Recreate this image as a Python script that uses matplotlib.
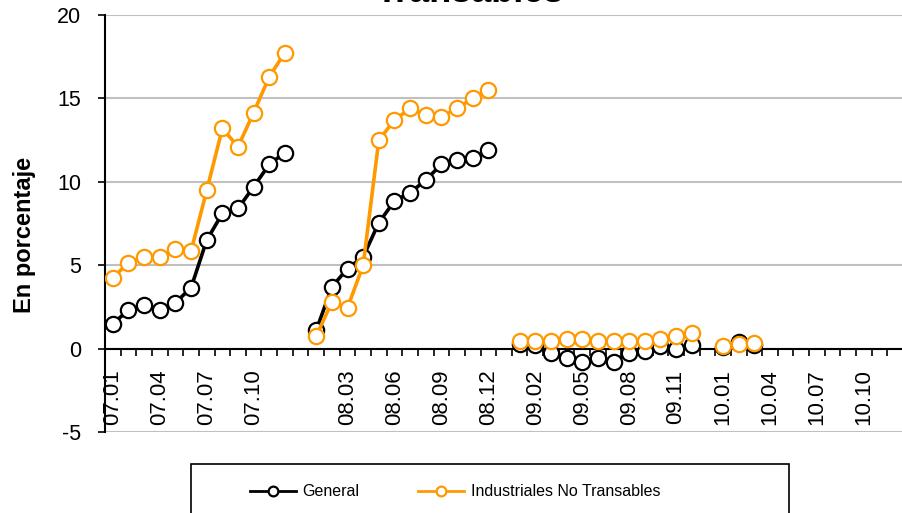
import matplotlib
matplotlib.use('Agg')
import matplotlib.pyplot as plt
import numpy as np
from matplotlib.patches import Rectangle

plt.rcParams['font.family'] = ['Liberation Sans', 'DejaVu Sans']
plt.rcParams['axes.unicode_minus'] = False

# ---- categories (a blank slot separates each year) ----
years = ['07', '08', '09', '10']
months = ['01', '02', '03', '04', '05', '06', '07', '08', '09', '10', '11', '12']
categories = []
for i, y in enumerate(years):
    if i > 0:
        categories.append('')
    categories += [f'{y}.{m}' for m in months]

nan = np.nan
# ---- General ----
general_07 = [1.5, 2.3, 2.6, 2.3, 2.75, 3.65, 6.5, 8.1, 8.4, 9.7, 11.05, 11.75]
general_08 = [1.1, 3.7, 4.8, 5.5, 7.55, 8.85, 9.35, 10.1, 11.05, 11.3, 11.4, 11.9]
general_09 = [0.3, 0.2, -0.25, -0.55, -0.8, -0.55, -0.8, -0.25, -0.15, 0.15, 0.0, 0.2]
general_10 = [0.1, 0.4, 0.2, nan, nan, nan, nan, nan, nan, nan, nan, nan]
# ---- Industriales No Transables ----
nt_07 = [4.25, 5.15, 5.5, 5.5, 6.0, 5.85, 9.48, 13.2, 12.1, 14.15, 16.3, 17.75]
nt_08 = [0.75, 2.8, 2.45, 5.0, 12.5, 13.7, 14.4, 14.0, 13.9, 14.4, 15.0, 15.5]
nt_09 = [0.45, 0.45, 0.45, 0.6, 0.6, 0.45, 0.45, 0.45, 0.45, 0.6, 0.75, 0.95]
nt_10 = [0.15, 0.25, 0.35, nan, nan, nan, nan, nan, nan, nan, nan, nan]

def join(parts):
    out = []
    for i, p in enumerate(parts):
        if i > 0:
            out.append(nan)
        out += p
    return np.array(out, dtype=float)

general = join([general_07, general_08, general_09, general_10])
nt = join([nt_07, nt_08, nt_09, nt_10])

ORANGE = '#FF9900'

fig = plt.figure(figsize=(9.02, 5.13), dpi=100)
ax = fig.add_axes([105/902, 81/513, 798/902, 417/513])

x = np.arange(len(categories))
ax.plot(x, general, color='black', lw=2.6, marker='o', ms=11, mfc='white',
        mec='black', mew=1.6, zorder=3, label='General')
ax.plot(x, nt, color=ORANGE, lw=2.6, marker='o', ms=11, mfc='white',
        mec=ORANGE, mew=1.6, zorder=4, label='Industriales No Transables')

ax.set_xlim(-0.5, len(categories) - 0.5)
ax.set_ylim(-5, 20)
ax.set_yticks([-5, 0, 5, 10, 15, 20])
ax.yaxis.grid(True, color='#C0C0C0', lw=1.5)
ax.set_axisbelow(True)

ax.spines['top'].set_visible(False)
ax.spines['right'].set_visible(False)
ax.spines['left'].set_linewidth(1.5)
ax.spines['bottom'].set_position(('data', 0))
ax.spines['bottom'].set_linewidth(1.5)

major = list(range(0, len(categories), 3))
ax.set_xticks(major)
ax.set_xticklabels([categories[i] for i in major], rotation=90, fontsize=16)
ax.set_xticks(np.arange(-0.5, len(categories), 1.0), minor=True)
ax.tick_params(axis='x', which='major', length=0, pad=15)
ax.tick_params(axis='x', which='minor', length=5, width=1.2, direction='out')
ax.tick_params(axis='y', length=5, width=1.2, direction='out', labelsize=15.5, pad=12)

fig.text(25/902, 1 - 235/513, 'En porcentaje', rotation=90, ha='center', va='center',
         fontsize=17, fontweight='bold')

fig.text(470/902, 1 - 2/513, 'Transables', ha='center', va='baseline',
         fontsize=26, fontweight='bold')

# legend
fig.add_artist(Rectangle((191/902, -10/513), (789-191)/902, (513-464+10)/513,
                         transform=fig.transFigure, fill=False, ec='black', lw=1.2))
handles = [
    plt.Line2D([], [], color='black', lw=2.0, marker='o', ms=7, mfc='white', mec='black', mew=1.6),
    plt.Line2D([], [], color=ORANGE, lw=2.0, marker='o', ms=7, mfc='white', mec=ORANGE, mew=1.6),
]
fig.legend(handles, ['General', 'Industriales No Transables'], loc='center',
           bbox_to_anchor=(455/902, 1 - 492/513), ncol=2, frameon=False,
           fontsize=11.5, handlelength=2.87, handletextpad=0.4, columnspacing=3.7)

fig.savefig('out.png', dpi=100)
